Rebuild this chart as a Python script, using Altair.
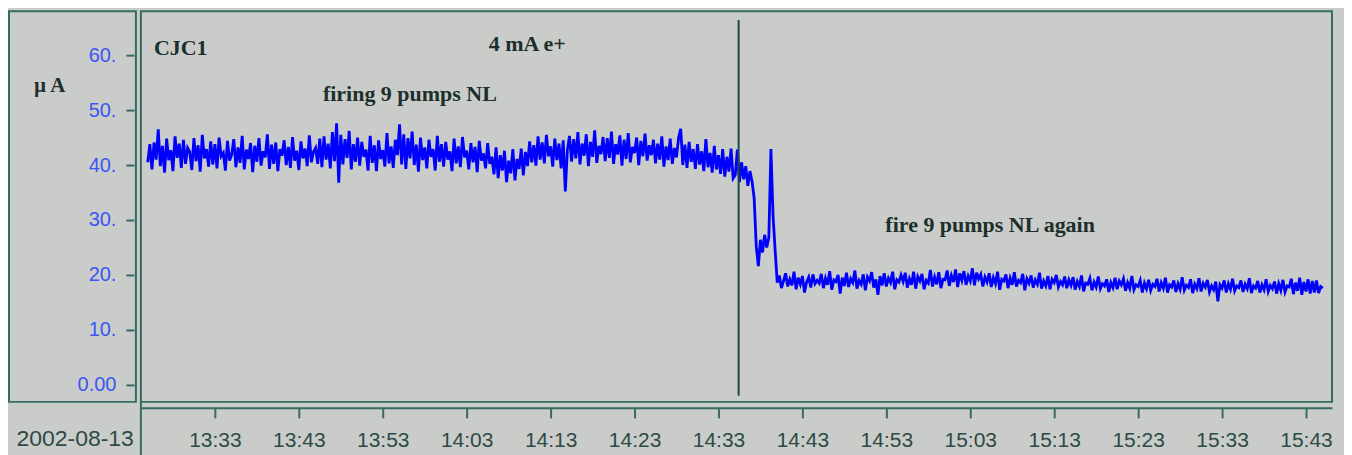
import altair as alt
import pandas as pd

# ---------------- data ----------------
STEP_SECONDS = 15

seg_1325 = [40.5, 43.8, 39.2, 44.1, 41.0, 46.5, 39.8, 43.5, 38.6, 44.8, 40.9, 42.7, 38.9, 45.2, 41.3, 43.9, 39.5, 44.6, 40.2, 43.1,
            42.4, 39.1, 44.9, 40.7, 43.6, 38.8, 45.5, 41.2, 42.9, 39.7, 44.3, 40.1, 43.8, 39.4, 45.0, 41.6, 42.2, 39.0, 44.4, 40.8]
seg_1335 = [41.9, 44.7, 39.6, 43.2, 40.4, 45.3, 39.2, 42.8, 41.1, 44.0, 38.7, 43.5, 40.6, 44.9, 39.9, 42.5, 41.4, 45.6, 39.3, 43.7,
            40.2, 44.1, 38.9, 42.9, 41.7, 44.5, 40.0, 43.3, 39.5, 45.1, 40.8, 42.6, 39.1, 44.3, 41.2, 43.0, 39.8, 45.4, 40.5, 42.4]
seg_1345 = [43.1, 40.2, 44.8, 39.6, 45.2, 41.0, 43.9, 39.4, 46.0, 40.7, 47.6, 36.8, 45.5, 40.1, 44.7, 41.3, 46.2, 39.2, 43.8, 40.6,
            45.0, 39.9, 44.2, 41.5, 42.8, 39.0, 45.3, 40.4, 43.6, 38.9, 44.5, 41.1, 42.7, 39.7, 45.8, 40.3, 43.4, 39.5, 44.6, 41.8]
seg_1355 = [47.4, 40.1, 45.6, 39.3, 44.9, 41.2, 46.1, 40.0, 43.7, 38.8, 45.0, 40.9, 43.2, 39.4, 44.6, 41.5, 42.9, 39.0, 45.3, 40.6,
            43.8, 39.7, 44.2, 41.0, 42.5, 38.9, 44.8, 40.3, 43.4, 39.6, 45.1, 41.4, 42.6, 39.2, 44.0, 40.5, 43.3, 38.7, 44.4, 40.8]
seg_1405 = [42.1, 39.4, 44.0, 40.2, 41.5, 38.3, 43.2, 37.6, 41.8, 39.0, 42.6, 36.9, 40.8, 38.5, 42.9, 37.2, 41.1, 39.3, 43.0, 38.1,
            42.4, 39.8, 44.3, 40.5, 43.6, 39.9, 45.2, 41.0, 44.1, 40.3, 45.5, 41.6, 43.4, 39.7, 44.8, 40.9, 43.9, 39.4, 44.5, 35.2]
seg_1415 = [42.8, 45.3, 40.6, 44.7, 41.2, 46.0, 40.1, 43.9, 41.7, 45.6, 39.8, 44.2, 41.5, 46.3, 40.4, 43.5, 42.0, 45.1, 40.7, 44.9,
            41.3, 46.1, 40.2, 43.8, 41.9, 45.4, 39.9, 44.6, 41.1, 45.8, 40.5, 43.3, 42.2, 45.0, 40.0, 44.4, 41.6, 45.7, 40.8, 43.6]
seg_1425 = [41.8, 44.6, 40.3, 43.9, 41.0, 45.2, 39.7, 43.4, 40.9, 44.8, 40.2, 43.1, 41.4, 45.0, 46.6, 40.0, 43.7, 39.5, 44.2, 40.6,
            42.9, 39.3, 43.8, 40.1, 42.5, 38.9, 44.7, 39.6, 42.2, 38.6, 43.5, 39.2, 41.8, 38.4, 42.9, 37.9, 41.5, 38.8, 43.0, 37.6]
seg_1435 = [38.2, 42.8, 36.9, 40.5, 37.4, 39.8, 36.2, 38.9, 37.0, 34.0, 25.3, 21.6, 26.4, 24.1, 27.3, 25.0, 26.8, 42.9, 30.8, 24.5,
            18.6, 19.9, 17.6, 18.9, 20.3, 17.9, 19.2, 18.1, 20.6, 17.4, 19.5, 18.3, 19.8, 16.8, 18.7, 19.6, 17.7, 20.1, 18.4, 19.0]
seg_1445 = [18.5, 20.2, 17.6, 19.4, 18.2, 20.7, 17.3, 19.1, 18.8, 20.0, 16.6, 19.5, 18.0, 20.4, 17.8, 19.3, 18.6, 20.8, 17.5, 19.0,
            18.3, 20.1, 17.2, 19.6, 18.9, 20.5, 17.7, 19.2, 16.4, 19.8, 18.1, 20.3, 17.9, 19.4, 18.6, 20.6, 17.4, 19.1, 18.7, 20.0]
seg_1455 = [18.8, 20.4, 17.7, 19.3, 18.2, 20.6, 17.5, 19.7, 18.9, 20.2, 17.4, 19.0, 18.5, 20.9, 17.9, 19.6, 18.3, 20.5, 17.6, 19.2,
            19.1, 20.8, 18.0, 19.9, 18.7, 21.0, 17.8, 20.3, 19.0, 20.7, 18.2, 19.8, 18.9, 21.2, 18.1, 20.4, 19.3, 20.1, 17.9, 19.6]
seg_1505 = [18.7, 20.3, 17.8, 19.5, 18.4, 20.6, 17.3, 19.2, 18.9, 20.1, 17.6, 19.4, 18.2, 20.5, 17.9, 19.0, 18.6, 20.2, 17.2, 19.3,
            18.5, 19.9, 17.7, 19.1, 18.3, 20.4, 17.5, 18.9, 18.0, 19.8, 17.4, 19.2, 18.6, 20.0, 17.8, 18.8, 18.2, 19.7, 17.6, 19.1]
seg_1515 = [18.1, 19.6, 17.3, 18.8, 17.9, 19.9, 17.0, 18.5, 18.3, 19.4, 17.2, 18.7, 17.8, 19.7, 17.5, 18.4, 18.0, 19.2, 16.9, 18.6,
            17.7, 19.5, 17.4, 18.9, 18.2, 19.3, 17.1, 18.6, 17.6, 19.8, 17.3, 18.2, 17.9, 19.0, 16.8, 18.5, 17.5, 19.1, 17.2, 18.3]
seg_1525 = [17.9, 19.3, 17.0, 18.6, 17.6, 19.5, 16.8, 18.2, 17.8, 19.0, 16.9, 18.4, 17.4, 19.6, 17.2, 18.1, 17.7, 19.2, 16.7, 18.3,
            17.5, 19.4, 17.0, 18.5, 17.8, 19.1, 16.9, 18.0, 17.3, 18.8, 15.2, 18.2, 17.6, 19.0, 16.8, 18.4, 17.4, 19.3, 17.1, 18.0]
seg_1535 = [17.7, 19.0, 16.9, 18.3, 17.5, 19.4, 16.7, 18.0, 17.6, 18.9, 16.8, 18.2, 17.3, 19.2, 17.0, 18.1, 17.5, 18.8, 16.6, 18.4,
            17.2, 19.1, 16.9, 18.0, 17.8, 19.3, 16.5, 18.6, 17.1, 19.5, 16.4, 18.7, 17.0, 19.2, 16.6, 18.9, 16.8, 19.0, 16.7, 17.9, 17.6]

segments = [
    ("2002-08-13 13:25:00", seg_1325), ("2002-08-13 13:35:00", seg_1335),
    ("2002-08-13 13:45:00", seg_1345), ("2002-08-13 13:55:00", seg_1355),
    ("2002-08-13 14:05:00", seg_1405), ("2002-08-13 14:15:00", seg_1415),
    ("2002-08-13 14:25:00", seg_1425), ("2002-08-13 14:35:00", seg_1435),
    ("2002-08-13 14:45:00", seg_1445), ("2002-08-13 14:55:00", seg_1455),
    ("2002-08-13 15:05:00", seg_1505), ("2002-08-13 15:15:00", seg_1515),
    ("2002-08-13 15:25:00", seg_1525), ("2002-08-13 15:35:00", seg_1535),
]

y_ticks = [0, 10, 20, 30, 40, 50, 60]
x_tick_labels = ["13:33", "13:43", "13:53", "14:03", "14:13", "14:23", "14:33",
                 "14:43", "14:53", "15:03", "15:13", "15:23", "15:33", "15:43"]

ann_text = ["CJC1", "4 mA e+", "firing 9 pumps NL", "fire 9 pumps NL again"]
ann_time = ["2002-08-13T13:25:44", "2002-08-13T14:05:37", "2002-08-13T13:45:52", "2002-08-13T14:52:53"]
ann_value = [61.3, 62.1, 53.0, 29.0]

marker_time = ["2002-08-13T14:35:24"]
marker_top = [66.4]
marker_bottom = [-2.0]

date_label = "2002-08-13"
unit_label = "\u00b5 A"

# ---------------- tables ----------------
frames = []
for start, vals in segments:
    t = pd.date_range(start, periods=len(vals), freq=f"{STEP_SECONDS}s")
    frames.append(pd.DataFrame({"time": t, "current": vals}))
df = pd.concat(frames, ignore_index=True)
df["time"] = df["time"].dt.strftime("%Y-%m-%dT%H:%M:%S")

ann_df = pd.DataFrame({"text": ann_text, "time": ann_time, "value": ann_value})
marker_df = pd.DataFrame({"time": marker_time, "top": marker_top, "bottom": marker_bottom})
yt_df = pd.DataFrame({"v": y_ticks})

# ---------------- styles ----------------
GRAY = "#c9ccc8"
TEAL = "#356b64"
BLUE_LABEL = "#3d55f5"
DARK = "#1c2f2c"
XLAB = "#2d4a47"

y_scale = alt.Scale(domain=[-3.1, 68.0], nice=False, zero=False)
x_scale = alt.Scale(domain=[alt.DateTime(year=2002, month=8, date=13, hours=13, minutes=24, seconds=11),
                            alt.DateTime(year=2002, month=8, date=13, hours=15, minutes=46, seconds=6)],
                    nice=False)

x_vals = [alt.DateTime(year=2002, month=8, date=13, hours=int(s[:2]), minutes=int(s[3:])) for s in x_tick_labels]

x_axis = alt.Axis(values=x_vals, format="%H:%M", title=None, grid=False,
                  labelFont="Liberation Sans", labelFontSize=21, labelColor=XLAB,
                  tickColor=TEAL, tickSize=10, tickWidth=2, domainColor=TEAL, domainWidth=2,
                  offset=6, labelPadding=12, labelFlush=False)

# ---------------- left panel (y axis) ----------------
left_axis = alt.Chart(yt_df).mark_point(opacity=0).encode(
    y=alt.Y("v:Q", scale=y_scale,
            axis=alt.Axis(values=y_ticks, orient="left", offset=-125, tickSize=8, tickWidth=2,
                          tickColor=TEAL, domain=False, grid=False, title=None,
                          labelExpr="datum.value == 0 ? '0.00' : datum.value + '.'",
                          labelColor=BLUE_LABEL, labelFont="Liberation Sans", labelFontSize=20,
                          labelPadding=10))
)
unit_txt = alt.Chart(pd.DataFrame({"t": [unit_label]})).mark_text(
    font="Liberation Serif", fontWeight="bold", fontSize=21, color=DARK, align="left", baseline="middle"
).encode(x=alt.value(25), y=alt.value(75), text="t:N")
date_txt = alt.Chart(pd.DataFrame({"t": [date_label]})).mark_text(
    font="Liberation Sans", fontSize=23, color=XLAB, align="right", baseline="middle"
).encode(x=alt.value(125), y=alt.value(428), text="t:N")

left = alt.layer(left_axis, unit_txt, date_txt).properties(width=127, height=391)

# ---------------- main plot ----------------
line = alt.Chart(df).mark_line(color="#0000ff", strokeWidth=2.8).encode(
    x=alt.X("time:T", scale=x_scale, axis=x_axis),
    y=alt.Y("current:Q", scale=y_scale, axis=None),
)
marker = alt.Chart(marker_df).mark_rule(color="#1f4a44", strokeWidth=2).encode(
    x="time:T", y="top:Q", y2="bottom:Q"
)
ann = alt.Chart(ann_df).mark_text(
    font="Liberation Serif", fontWeight="bold", fontSize=22, color=DARK, align="left", baseline="middle"
).encode(x="time:T", y="value:Q", text="text:N")
strip_edge = alt.Chart(pd.DataFrame({"a": [0]})).mark_rule(color=TEAL, strokeWidth=2).encode(
    x=alt.value(0), y=alt.value(391), y2=alt.value(450)
)

right = alt.layer(line, marker, ann, strip_edge).properties(width=1192, height=391)

chart = alt.hconcat(left, right, spacing=2).properties(
    padding={"left": 0, "top": 2, "right": 10, "bottom": 0}
).configure(background=GRAY).configure_view(
    stroke=TEAL, strokeWidth=2, fill=GRAY
)

chart.save("out.html", embed_options={"renderer": "svg", "actions": False})
